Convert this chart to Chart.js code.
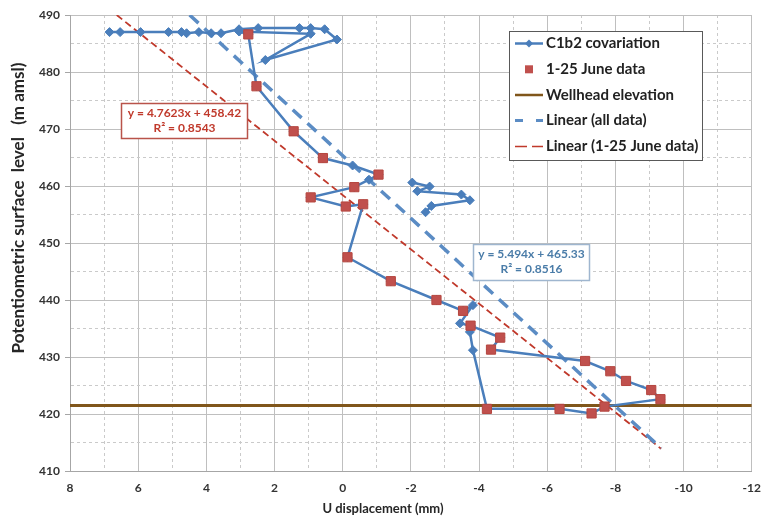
<!DOCTYPE html>
<html>
<head>
<meta charset="utf-8">
<script src="https://cdn.jsdelivr.net/npm/chart.js@4.4.1/dist/chart.umd.min.js"></script>
<style>
  html, body { margin: 0; padding: 0; background: #fff; }
</style>
</head>
<body>
<canvas id="chart" width="771" height="520"></canvas>
<script>
// C1b2 covariation - main run (U displacement mm / level m amsl)
const covU = [6.84, 6.53, 5.93, 5.11, 4.73, 4.58, 4.22, 3.86, 3.57, 3.04, 2.48, 1.27, 0.94, 0.53, 0.17, 2.27, 0.94, 3.04,
  2.77, 2.53, 1.44, 0.58, -0.29, -1.05, -0.77, -0.34, 0.94, -0.09, -0.60, -0.14, -1.41, -2.75, -3.53, -3.82, -3.44,
  -3.75, -3.73, -3.82, -4.23, -6.36, -7.30, -7.68, -9.32, -9.05, -8.31, -7.85, -7.11, -4.35, -4.62, -3.75];
const covLevel = [487.0, 487.0, 487.0, 487.0, 487.0, 486.8, 487.0, 486.8, 486.8, 487.5, 487.7, 487.7, 487.7, 487.5, 485.7, 482.1, 486.7, 487.1,
  486.6, 477.5, 469.6, 464.9, 463.6, 462.0, 461.1, 459.8, 458.0, 456.4, 456.8, 447.5, 443.3, 440.0, 438.1, 439.1, 435.9,
  435.5, 434.4, 431.2, 420.9, 420.9, 420.1, 421.3, 422.6, 424.2, 425.8, 427.5, 429.3, 431.3, 433.4, 435.5];

// short separate run of the same series
const covU2 = [-2.04, -2.55, -2.19, -3.48, -3.73, -2.60, -2.43];
const covLevel2 = [460.6, 459.9, 459.1, 458.5, 457.5, 456.5, 455.4];

// 1-25 June data
const juneU = [2.77, 2.53, 1.44, 0.58, -1.05, -0.34, 0.94, -0.09, -0.60, -0.14, -1.41, -2.75, -3.53, -3.75,
  -4.23, -6.36, -7.30, -7.68, -9.32, -9.05, -8.31, -7.85, -7.11, -4.35, -4.62];
const juneLevel = [486.6, 477.5, 469.6, 464.9, 462.0, 459.8, 458.0, 456.4, 456.8, 447.5, 443.3, 440.0, 438.1, 435.5,
  420.9, 420.9, 420.1, 421.3, 422.6, 424.2, 425.8, 427.5, 429.3, 431.3, 433.4];

const wellheadU = [8, -12];
const wellheadLevel = [421.5, 421.5];

// trend line ends as drawn
const allTrendU = [4.49, -9.34];
const allTrendLevel = [490, 414.0];
const juneTrendU = [6.63, -9.34];
const juneTrendLevel = [490, 413.9];

const allTrendText = ['y = 5.494x + 465.33', 'R\u00b2 = 0.8516'];
const juneTrendText = ['y = 4.7623x + 458.42', 'R\u00b2 = 0.8543'];

const legendLabels = ['C1b2 covariation', '1-25 June data', 'Wellhead elevation', 'Linear (all data)', 'Linear (1-25 June data)'];

const toPoints = (xs, ys) => xs.map((x, i) => ({x: x, y: ys[i]}));

const BLUE = '#4a7ebb';
const RED = '#c0504d';
const BROWN = '#80561b';
const FONT = 'Lato, "Open Sans", sans-serif';

const majorGrid = '#bfbfbf';
const minorGrid = '#cacaca';

// legend, equation boxes, axis titles
const overlay = {
  id: 'overlay',
  afterDatasetsDraw(chart) {
    const c = chart.ctx;
    c.save();
    eqBox(c, 121.5, 103.5, 126, 35, '#b9534a', '#c0392b', juneTrendText);
    eqBox(c, 473.5, 244.5, 116, 36, '#9fb6cf', '#4a7ca8', allTrendText);
    c.restore();
  },
  afterDraw(chart) {
    const c = chart.ctx;
    c.save();
    // legend box
    c.fillStyle = '#fff';
    c.fillRect(509.5, 31.5, 193, 129);
    c.strokeStyle = '#595959';
    c.lineWidth = 1;
    c.strokeRect(509.5, 31.5, 193, 129);

    const ys = [43.5, 69.3, 95, 120.5, 146.5];
    // C1b2
    c.strokeStyle = BLUE; c.lineWidth = 2.5;
    c.beginPath(); c.moveTo(515, ys[0]); c.lineTo(543, ys[0]); c.stroke();
    c.fillStyle = BLUE;
    c.beginPath(); c.moveTo(529 - 4, ys[0]); c.lineTo(529, ys[0] - 4); c.lineTo(529 + 4, ys[0]); c.lineTo(529, ys[0] + 4); c.closePath(); c.fill();
    // June squares
    c.fillStyle = RED;
    c.fillRect(525, ys[1] - 4, 8, 8);
    // Wellhead
    c.strokeStyle = BROWN; c.lineWidth = 2.5;
    c.beginPath(); c.moveTo(515, ys[2]); c.lineTo(543, ys[2]); c.stroke();
    // Linear all
    c.strokeStyle = '#5b8cc4'; c.lineWidth = 3;
    c.beginPath(); c.moveTo(515, ys[3]); c.lineTo(523, ys[3]); c.moveTo(536, ys[3]); c.lineTo(543, ys[3]); c.stroke();
    // Linear June
    c.strokeStyle = '#c0392b'; c.lineWidth = 1.5;
    c.beginPath(); c.moveTo(515, ys[4]); c.lineTo(527, ys[4]); c.moveTo(532, ys[4]); c.lineTo(543, ys[4]); c.stroke();

    c.fillStyle = '#222';
    c.font = 'bold 15px ' + FONT;
    c.textAlign = 'left';
    c.textBaseline = 'middle';
    legendLabels.forEach((t, i) => c.fillText(t, 546, ys[i]));

    // axis titles
    c.fillStyle = '#262626';
    c.font = 'bold 13px ' + FONT;
    c.textAlign = 'center';
    c.fillText('U displacement (mm)', 383, 509);
    c.font = 'bold 17px ' + FONT;
    c.translate(19, 208);
    c.rotate(-Math.PI / 2);
    c.fillText('Potentiometric surface  level   (m amsl)', 0, 0);
    c.restore();
  }
};

function eqBox(c, x, y, w, h, border, color, lines) {
  c.fillStyle = '#fff';
  c.fillRect(x, y, w, h);
  c.strokeStyle = border;
  c.lineWidth = 1.5;
  c.strokeRect(x, y, w, h);
  c.fillStyle = color;
  c.font = 'bold 12px ' + FONT;
  c.textAlign = 'center';
  c.textBaseline = 'middle';
  c.fillText(lines[0], x + w / 2, y + 10);
  c.fillText(lines[1], x + w / 2, y + 25);
}

new Chart(document.getElementById('chart'), {
  type: 'scatter',
  data: {
    datasets: [
      {
        label: '1-25 June data',
        data: toPoints(juneU, juneLevel),
        showLine: false,
        pointStyle: 'rect',
        pointRadius: 6.5,
        backgroundColor: RED,
        borderColor: '#b5463f',
        borderWidth: 1,
        order: 0
      },
      {
        label: 'C1b2 covariation',
        data: toPoints(covU, covLevel),
        showLine: true,
        borderColor: BLUE,
        borderWidth: 2.5,
        backgroundColor: BLUE,
        pointStyle: 'rectRot',
        pointRadius: 4.5,
        pointBorderWidth: 1,
        tension: 0,
        order: 1
      },
      {
        label: 'C1b2 covariation (b)',
        data: toPoints(covU2, covLevel2),
        showLine: true,
        borderColor: BLUE,
        borderWidth: 2.5,
        backgroundColor: BLUE,
        pointStyle: 'rectRot',
        pointRadius: 4.5,
        pointBorderWidth: 1,
        tension: 0,
        order: 1
      },
      {
        label: 'Linear (all data)',
        data: toPoints(allTrendU, allTrendLevel),
        showLine: true,
        borderColor: '#5b8cc4',
        borderWidth: 3.5,
        borderDash: [12, 8],
        pointRadius: 0,
        order: 2
      },
      {
        label: 'Linear (1-25 June data)',
        data: toPoints(juneTrendU, juneTrendLevel),
        showLine: true,
        borderColor: '#c0392b',
        borderWidth: 1.8,
        borderDash: [7, 4],
        pointRadius: 0,
        order: 3
      },
      {
        label: 'Wellhead elevation',
        data: toPoints(wellheadU, wellheadLevel),
        showLine: true,
        borderColor: BROWN,
        borderWidth: 3,
        pointRadius: 0,
        order: 4
      }
    ]
  },
  options: {
    responsive: false,
    animation: false,
    layout: { padding: { top: 15, right: 9, left: 0, bottom: 0 } },
    plugins: {
      legend: { display: false },
      tooltip: { enabled: false }
    },
    scales: {
      x: {
        type: 'linear',
        reverse: true,
        min: -12,
        max: 8,
        afterFit: s => { s.height = 49; },
        ticks: {
          stepSize: 1,
          autoSkip: false,
          maxRotation: 0,
          padding: 10,
          color: '#333',
          font: { family: FONT, size: 12, weight: 'bold' },
          callback: v => (v % 2 === 0 ? v : '')
        },
        grid: {
          drawTicks: false,
          lineWidth: 1,
          color: ctx => (ctx.tick && ctx.tick.value % 2 !== 0 ? minorGrid : majorGrid)
        },
        border: {
          color: '#a6a6a6',
          dash: ctx => (ctx.tick && ctx.tick.value % 2 !== 0 ? [3, 3] : [])
        }
      },
      y: {
        type: 'linear',
        min: 410,
        max: 490,
        afterFit: s => { s.width = 70; },
        ticks: {
          stepSize: 5,
          autoSkip: false,
          padding: 5,
          color: '#333',
          font: { family: FONT, size: 12, weight: 'bold' },
          callback: v => (v % 10 === 0 ? v : '')
        },
        grid: {
          tickLength: 5,
          lineWidth: 1,
          color: ctx => (ctx.tick && ctx.tick.value % 10 !== 0 ? minorGrid : majorGrid),
          tickColor: ctx => (ctx.tick && ctx.tick.value % 10 !== 0 ? 'rgba(0,0,0,0)' : '#a6a6a6')
        },
        border: {
          color: '#a6a6a6',
          dash: ctx => (ctx.tick && ctx.tick.value % 10 !== 0 ? [3, 3] : [])
        }
      }
    }
  },
  plugins: [overlay]
});
</script>
</body>
</html>
